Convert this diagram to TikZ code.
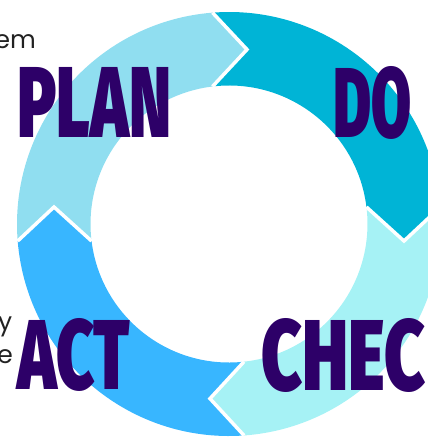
\documentclass[tikz,border=0pt]{standalone}
\usepackage{fontspec}
\usetikzlibrary{calc}
\newfontfamily\smallfont{Poppins}
\newfontfamily\bigfont{Fira Sans Black}
\definecolor{planc}{HTML}{90DEF0}
\definecolor{doc}{HTML}{00B4D6}
\definecolor{checkc}{HTML}{A6F2F5}
\definecolor{actc}{HTML}{38B6FF}
\definecolor{txtc}{HTML}{2D0068}
\definecolor{smallc}{HTML}{222222}
\tikzset{
  bigtext/.style={inner sep=0pt, text=txtc, font=\bigfont, anchor=base west},
  smalltext/.style={inner sep=0pt, text=smallc, font=\smallfont\fontsize{25}{30}\selectfont, anchor=base east},
  sep/.style={white, line width=3.5pt, line join=miter}
}
\begin{document}
\begin{tikzpicture}[x=1pt,y=-1pt]
\useasboundingbox (0,0) rectangle (428,437);
\clip (0,0) rectangle (428,437);
\def\Ro{212}
\def\Ri{138.5}
\coordinate (C) at (229,224);
\coordinate (topO) at ($(C)+(265.54:\Ro)$);
\coordinate (topI) at ($(C)+(263.16:\Ri)$);
\coordinate (topT) at (247,49.5);
\coordinate (rgtO) at ($(C)+(355.40:\Ro)$);
\coordinate (rgtI) at ($(C)+(352.95:\Ri)$);
\coordinate (rgtT) at (404,241);
\coordinate (botO) at ($(C)+(85.94:\Ro)$);
\coordinate (botI) at ($(C)+(83.78:\Ri)$);
\coordinate (botT) at (210,398.6);
\coordinate (lftO) at ($(C)+(175.40:\Ro)$);
\coordinate (lftI) at ($(C)+(172.95:\Ri)$);
\coordinate (lftT) at (54,207);
% PLAN segment
\fill[planc] (lftO) arc[start angle=175.40, end angle=265.54, radius=\Ro] -- (topT) -- (topI)
  arc[start angle=263.16, end angle=172.95, radius=\Ri] -- (lftT) -- cycle;
% DO segment
\fill[doc] (topO) arc[start angle=265.54, end angle=355.40, radius=\Ro] -- (rgtT) -- (rgtI)
  arc[start angle=352.95, end angle=263.16, radius=\Ri] -- (topT) -- cycle;
% CHECK segment
\fill[checkc] (rgtO) arc[start angle=-4.60, end angle=85.94, radius=\Ro] -- (botT) -- (botI)
  arc[start angle=83.78, end angle=-7.05, radius=\Ri] -- (rgtT) -- cycle;
% ACT segment
\fill[actc] (botO) arc[start angle=85.94, end angle=175.40, radius=\Ro] -- (lftT) -- (lftI)
  arc[start angle=172.95, end angle=83.78, radius=\Ri] -- (botT) -- cycle;
% separators
\draw[sep] (topO) -- (topT) -- (topI);
\draw[sep] (rgtO) -- (rgtT) -- (rgtI);
\draw[sep] (botO) -- (botT) -- (botI);
\draw[sep] (lftO) -- (lftT) -- (lftI);
% labels
\node[bigtext] (plan) at (17,137) {\resizebox{154pt}{70pt}{PLAN}};
\node[bigtext] (do) at (333,137) {\resizebox{78pt}{71pt}{DO}};
\node[bigtext] (act) at (17,389) {\resizebox{113pt}{71pt}{ACT}};
\node[bigtext] (check) at (261,390) {\resizebox{210pt}{72pt}{CHECK}};
% cropped side texts
\node[smalltext] (t1) at (36,48) {em};
\node[smalltext] (t2) at (12.5,330) {y};
\node[smalltext] (t3) at (13,363) {e};
\end{tikzpicture}
\end{document}
